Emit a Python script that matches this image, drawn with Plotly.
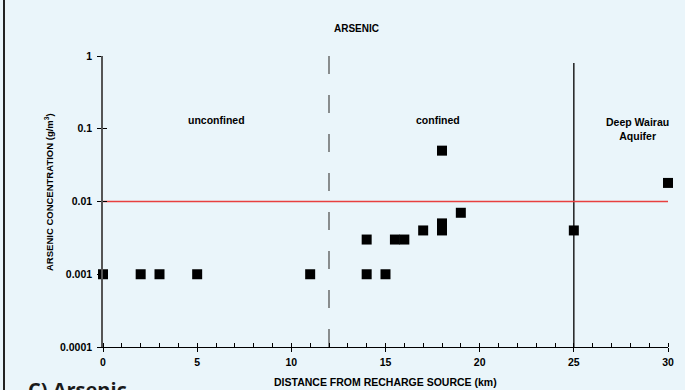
import plotly.graph_objects as go

# Arsenic concentration vs distance from recharge source
distance_km = [0, 2, 3, 5, 11, 14, 14, 15, 15.5, 16, 17, 18, 18, 18, 19, 25, 30]
arsenic_gm3 = [0.001, 0.001, 0.001, 0.001, 0.001, 0.003, 0.001, 0.001, 0.003,
               0.003, 0.004, 0.004, 0.005, 0.05, 0.007, 0.004, 0.018]

guideline_value = 0.01          # drinking-water limit line
confined_boundary_km = 12       # unconfined / confined transition
deep_aquifer_km = 25            # start of Deep Wairau Aquifer

y_tickvals = [0.0001, 0.001, 0.01, 0.1, 1]
y_ticktext = ["0.0001", "0.001", "0.01", "0.1", "1"]
x_tickvals = [0, 5, 10, 15, 20, 25, 30]

BG = "#EAF5FA"
FONT = "Liberation Sans"

# plot-area geometry in pixels
L, R, T, B = 103, 668, 56, 347
W, H = R - L, B - T


def px(x):
    return (x - L) / W


def py(y):
    return (B - y) / H


fig = go.Figure()

# zone boundaries
fig.add_trace(go.Scatter(
    x=[confined_boundary_km, confined_boundary_km], y=[0.0001, 1], mode="lines",
    line=dict(color="#555555", width=1.3, dash="18px,21px"),
    hoverinfo="skip", showlegend=False))
fig.add_trace(go.Scatter(
    x=[deep_aquifer_km, deep_aquifer_km], y=[0.0001, 0.8], mode="lines",
    line=dict(color="#111111", width=1.4),
    hoverinfo="skip", showlegend=False))

# guideline
fig.add_trace(go.Scatter(
    x=[0, 30], y=[guideline_value, guideline_value], mode="lines",
    line=dict(color="#E8403F", width=1.5), hoverinfo="skip",
    showlegend=False))

# measurements
fig.add_trace(go.Scatter(
    x=distance_km, y=arsenic_gm3, mode="markers", cliponaxis=False,
    marker=dict(symbol="square", size=10, color="#000000"),
    showlegend=False))

# invisible trace on overlay axes so the inside ticks render
fig.add_trace(go.Scatter(x=[0], y=[0.001], xaxis="x2", yaxis="y2",
                         mode="markers", marker=dict(opacity=0),
                         hoverinfo="skip", showlegend=False))

tick_font = dict(family=FONT, size=10.5, color="#000000", weight="bold")

fig.update_layout(
    width=685, height=390,
    margin=dict(l=L, r=685 - R, t=T, b=390 - B),
    paper_bgcolor=BG, plot_bgcolor=BG,
    font=dict(family=FONT, color="#000000"),
    xaxis=dict(range=[0, 30], tickvals=x_tickvals, ticks="outside",
               ticklen=4, tickwidth=1, tickcolor="#000000",
               showline=True, linecolor="#000000", linewidth=1,
               showgrid=False, zeroline=False, tickfont=tick_font,
               ticklabelstandoff=1,
               minor=dict(dtick=1, ticks="inside", ticklen=4,
                          tickcolor="#000000", tickwidth=1)),
    yaxis=dict(type="log", range=[-4, 0], tickvals=y_tickvals,
               ticktext=y_ticktext, ticks="outside", ticklen=4,
               tickwidth=1, tickcolor="#000000", showline=True,
               linecolor="#555555", linewidth=1.5, showgrid=False,
               zeroline=False, tickfont=tick_font, ticklabelstandoff=3),
    xaxis2=dict(range=[0, 30], overlaying="x", tickvals=x_tickvals,
                ticks="inside", ticklen=4, tickcolor="#000000",
                showticklabels=False, showgrid=False, zeroline=False,
                showline=False),
    yaxis2=dict(type="log", range=[-4, 0], overlaying="y",
                tickvals=y_tickvals, ticks="inside", ticklen=4,
                tickcolor="#000000", showticklabels=False, showgrid=False,
                zeroline=False, showline=False),
    showlegend=False,
)

ann_font = dict(family=FONT, size=10.5, color="#000000", weight="bold")

fig.add_annotation(text="ARSENIC", xref="paper", yref="paper",
                   x=px(356), y=py(21), xanchor="center", showarrow=False,
                   font=dict(family=FONT, size=10, weight="bold"))
fig.add_annotation(text="unconfined", xref="x", yref="paper",
                   x=6.0, y=py(112), xanchor="center", showarrow=False,
                   font=ann_font)
fig.add_annotation(text="confined", xref="x", yref="paper",
                   x=17.8, y=py(112), xanchor="center", showarrow=False,
                   font=ann_font)
fig.add_annotation(text="Deep Wairau<br>Aquifer", xref="x", yref="paper",
                   x=28.4, y=py(114), xanchor="center", showarrow=False,
                   font=ann_font)
fig.add_annotation(text="ARSENIC CONCENTRATION (g/m<sup>3</sup>)",
                   xref="paper", yref="paper",
                   x=px(49), y=py(192), xanchor="center", yanchor="middle",
                   textangle=-90, showarrow=False,
                   font=dict(family=FONT, size=9.5, weight="bold"))
fig.add_annotation(text="DISTANCE FROM RECHARGE SOURCE (km)",
                   xref="paper", yref="paper",
                   x=px(385), y=py(382), xanchor="center", yanchor="middle",
                   showarrow=False,
                   font=dict(family=FONT, size=10.5, weight="bold"))
fig.add_annotation(text="C) Arsenic", xref="paper", yref="paper",
                   x=px(26), y=py(374),
                   xanchor="left", yanchor="top", showarrow=False,
                   font=dict(family="Open Sans", size=20, weight="bold",
                             color="#1a1a1a"))

# left panel border
fig.add_shape(type="line", xref="paper", yref="paper",
              x0=px(4), x1=px(4), y0=-0.3, y1=1.3,
              line=dict(color="#222222", width=2))

fig.write_html("out.html")
